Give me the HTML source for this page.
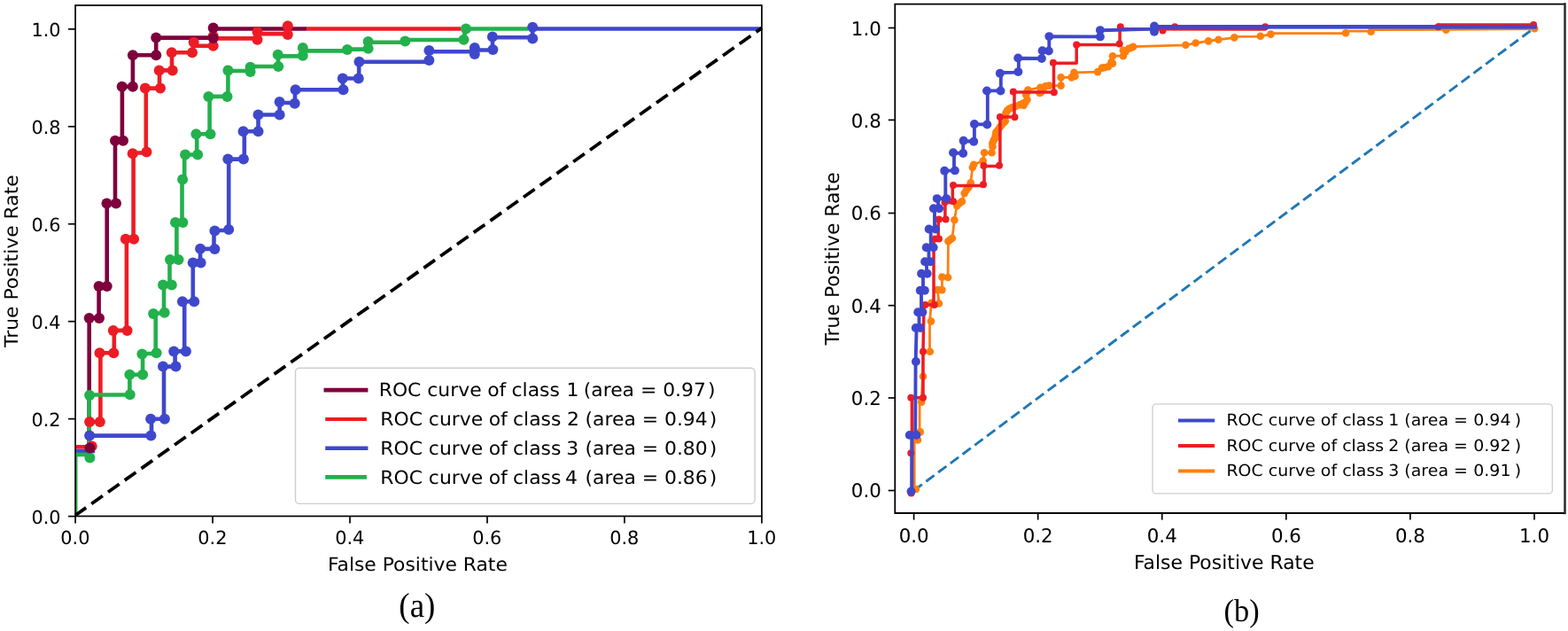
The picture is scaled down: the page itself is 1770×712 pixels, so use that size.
<!DOCTYPE html>
<html lang="en">
<head>
<meta charset="utf-8">
<title>ROC curves</title>
<style>
html,body{margin:0;padding:0;background:#fff;width:1770px;height:712px;overflow:hidden}
svg{display:block}
svg text{font-family:"DejaVu Sans","Liberation Sans",sans-serif;fill:#000;text-rendering:geometricPrecision}
</style>
</head>
<body>
<svg width="1770" height="712" viewBox="0 0 1770 712">
<rect width="1770" height="712" fill="#fff"/>
<g id="plot-a">
<path d="M100.7 505.6 L100.7 358.9 L111.6 358.9 L111.6 322.9 L120.7 322.9 L120.7 229.5 L130 229.5 L130 158.7 L137.9 158.7 L137.9 97.8 L149.9 97.8 L149.9 62.2 L176.2 62.2 L176.2 42.6 L240.7 42.6 L240.7 32.5 L346.7 32.5" fill="none" stroke="#7e003d" stroke-width="4.6" stroke-linejoin="round" stroke-linecap="butt" />
<path d="M86 504.3 L103.7 504.3" fill="none" stroke="#ed1c24" stroke-width="4.6" stroke-linejoin="round" stroke-linecap="butt" />
<path d="M101.1 476 L113.4 476 L113.4 398.2 L128.8 398.2 L128.8 372.9 L142.9 372.9 L142.9 269.7 L150.6 269.7 L150.6 172.5 L164.8 172.5 L164.8 99.6 L180 99.6 L180 79.4 L194 79.4 L194 59.2 L217.8 59.2 L217.8 51.8 L240.7 51.8" fill="none" stroke="#ed1c24" stroke-width="4.6" stroke-linejoin="round" stroke-linecap="butt" />
<path d="M240.7 43.4 L290.5 43.4 L290.5 38.1 L324.8 38.1 L324.8 32.5" fill="none" stroke="#ed1c24" stroke-width="4.6" stroke-linejoin="round" stroke-linecap="butt" />
<path d="M346.7 32.5 L520.4 32.5" fill="none" stroke="#ed1c24" stroke-width="4.6" stroke-linejoin="round" stroke-linecap="butt" />
<path d="M86 509 L107 509" fill="none" stroke="#3f48cc" stroke-width="4.6" stroke-linejoin="round" stroke-linecap="butt" />
<path d="M101.1 491.6 L171 491.6 L171 472.8 L185 472.8 L185 413.6 L197.6 413.6 L197.6 396.4 L208.2 396.4 L208.2 340.2 L217.8 340.2 L217.8 296.5 L226.1 296.5 L226.1 280.9 L241.5 280.9 L241.5 260 L258.2 260 L258.2 179.6 L275.8 179.6 L275.8 148.2 L291.5 148.2 L291.5 129.5 L315.6 129.5 L315.6 116 L333 116 L333 101.3 L387 101.3 L387 88.5 L405.2 88.5 L405.2 69.7 L484.4 69.7 L484.4 58.3 L535.8 58.3 L535.8 56.5 L556 56.5 L556 42.3 L601.2 42.3 L601.2 32.5 L859 32.5" fill="none" stroke="#3f48cc" stroke-width="4.6" stroke-linejoin="round" stroke-linecap="butt" />
<path d="M100.7 516.5 L100.7 445.5 L146.4 445.5 L146.4 422.8 L161.1 422.8 L161.1 399 L175.7 399 L175.7 353.5 L185 353.5 L185 321.5 L191.5 321.5 L191.5 293 L199.4 293 L199.4 250.9 L205.5 250.9 L205.5 202.6 L208.2 202.6 L208.2 174.5 L222.2 174.5 L222.2 151.2 L236.6 151.2 L236.6 108.9 L257.4 108.9 L257.4 80 L282.6 80 L282.6 75 L314 75 L314 63.4 L341.8 63.4 L341.8 57.4 L392 57.4 L392 55.6 L415.6 55.6 L415.6 47.8 L457.3 47.8 L457.3 45 L524.5 45 L524.5 32.5 L596 32.5" fill="none" stroke="#22b14c" stroke-width="4.6" stroke-linejoin="round" stroke-linecap="butt" />
<path d="M86 513 L101.4 513" fill="none" stroke="#22b14c" stroke-width="4.6" stroke-linejoin="round" stroke-linecap="butt" />
<path d="M86.7 582 L86.7 513" fill="none" stroke="#22b14c" stroke-width="1.6" stroke-linejoin="round" stroke-linecap="butt" />
<g fill="#22b14c"><circle cx="101.4" cy="516.5" r="6"/><circle cx="101.1" cy="446.1" r="6"/><circle cx="146.7" cy="445.2" r="6"/><circle cx="146.4" cy="422.8" r="6"/><circle cx="161.1" cy="422.8" r="6"/><circle cx="160.4" cy="399.4" r="6"/><circle cx="176.6" cy="398.2" r="6"/><circle cx="173.1" cy="353.9" r="6"/><circle cx="185.7" cy="352.7" r="6"/><circle cx="184" cy="321.5" r="6"/><circle cx="193.8" cy="321.5" r="6"/><circle cx="192" cy="293" r="6"/><circle cx="201.5" cy="293" r="6"/><circle cx="198" cy="250.9" r="6"/><circle cx="206.4" cy="250.9" r="6"/><circle cx="206.1" cy="202.6" r="6"/><circle cx="209.1" cy="174.5" r="6"/><circle cx="223.1" cy="174.5" r="6"/><circle cx="221.4" cy="151.2" r="6"/><circle cx="237.5" cy="151.2" r="6"/><circle cx="235.4" cy="108.9" r="6"/><circle cx="256.5" cy="108.9" r="6"/><circle cx="257.4" cy="79.4" r="6"/><circle cx="282.6" cy="81.1" r="6"/><circle cx="282.6" cy="75.8" r="6"/><circle cx="314.2" cy="75" r="6"/><circle cx="313.7" cy="61.8" r="6"/><circle cx="341.8" cy="62.7" r="6"/><circle cx="341.8" cy="53.9" r="6"/><circle cx="392" cy="56" r="6"/><circle cx="415.6" cy="54.8" r="6"/><circle cx="415.6" cy="46.9" r="6"/><circle cx="457.3" cy="46.5" r="6"/><circle cx="523.5" cy="44.8" r="6"/><circle cx="526" cy="32.5" r="6"/></g>
<g fill="#3f48cc"><circle cx="101.1" cy="491.6" r="6"/><circle cx="170.4" cy="491.6" r="6"/><circle cx="170.1" cy="472.8" r="6"/><circle cx="185.9" cy="472.8" r="6"/><circle cx="184" cy="413.6" r="6"/><circle cx="198.5" cy="413.6" r="6"/><circle cx="196.2" cy="396.4" r="6"/><circle cx="209.9" cy="396.4" r="6"/><circle cx="205.9" cy="340.2" r="6"/><circle cx="219.2" cy="340.2" r="6"/><circle cx="217.8" cy="296.5" r="6"/><circle cx="226.6" cy="296.5" r="6"/><circle cx="226.1" cy="280.7" r="6"/><circle cx="242.4" cy="281.1" r="6"/><circle cx="242.4" cy="260.5" r="6"/><circle cx="258.2" cy="259" r="6"/><circle cx="257.3" cy="179.6" r="6"/><circle cx="274.9" cy="179.6" r="6"/><circle cx="274.6" cy="148.2" r="6"/><circle cx="291.5" cy="148.2" r="6"/><circle cx="291.5" cy="129.6" r="6"/><circle cx="315.6" cy="129.4" r="6"/><circle cx="315.6" cy="115" r="6"/><circle cx="332.7" cy="116.8" r="6"/><circle cx="333.6" cy="101.3" r="6"/><circle cx="387.5" cy="101.3" r="6"/><circle cx="386.8" cy="88.5" r="6"/><circle cx="404.7" cy="88.5" r="6"/><circle cx="405.5" cy="69.7" r="6"/><circle cx="484.4" cy="67.9" r="6"/><circle cx="484.4" cy="57.1" r="6"/><circle cx="535.8" cy="53.9" r="6"/><circle cx="535.8" cy="60.9" r="6"/><circle cx="556.4" cy="56" r="6"/><circle cx="555.9" cy="41.6" r="6"/><circle cx="601.2" cy="43.4" r="6"/><circle cx="601.2" cy="30.7" r="6"/></g>
<g fill="#ed1c24"><circle cx="103.7" cy="503.5" r="6"/><circle cx="101.1" cy="476" r="6"/><circle cx="112.8" cy="476" r="6"/><circle cx="112.5" cy="398.2" r="6"/><circle cx="128.3" cy="398.2" r="6"/><circle cx="127.8" cy="372.9" r="6"/><circle cx="143.6" cy="372.9" r="6"/><circle cx="141.8" cy="269.7" r="6"/><circle cx="151.1" cy="269.7" r="6"/><circle cx="149.7" cy="173.3" r="6"/><circle cx="165.5" cy="171.5" r="6"/><circle cx="163.9" cy="99.6" r="6"/><circle cx="181" cy="99.6" r="6"/><circle cx="179.7" cy="79.4" r="6"/><circle cx="194.7" cy="79.4" r="6"/><circle cx="193.8" cy="59.2" r="6"/><circle cx="217" cy="59.2" r="6"/><circle cx="218.7" cy="47.8" r="6"/><circle cx="240.7" cy="51.8" r="6"/><circle cx="240.7" cy="40.7" r="6"/><circle cx="290.5" cy="44.8" r="6"/><circle cx="290.5" cy="36" r="6"/><circle cx="324.8" cy="39" r="6"/><circle cx="324.8" cy="29.3" r="6"/></g>
<g fill="#7e003d"><circle cx="101.4" cy="505.6" r="6"/><circle cx="100.7" cy="358.9" r="6"/><circle cx="112" cy="358.9" r="6"/><circle cx="111.6" cy="322.9" r="6"/><circle cx="120.7" cy="322.9" r="6"/><circle cx="120.5" cy="229.5" r="6"/><circle cx="131" cy="229.5" r="6"/><circle cx="130" cy="158.7" r="6"/><circle cx="139" cy="158.7" r="6"/><circle cx="137.7" cy="97.8" r="6"/><circle cx="149.9" cy="97.8" r="6"/><circle cx="149.9" cy="62.2" r="6"/><circle cx="176.2" cy="62.2" r="6"/><circle cx="176.2" cy="42.4" r="6"/><circle cx="240.7" cy="43" r="6"/><circle cx="240.7" cy="31.6" r="6"/></g>
<path d="M85.07 581.45 L859.9 31.6" stroke="#000" stroke-width="3.8" stroke-dasharray="15.5 7.5" stroke-dashoffset="0.7" fill="none"/>
<rect x="85.07" y="6" width="774.83" height="576.45" fill="none" stroke="#000" stroke-width="1.7"/>
<g stroke="#000" stroke-width="1.7">
<line x1="85.07" y1="582.45" x2="85.07" y2="590.45"/>
<line x1="77.07" y1="582.6" x2="85.07" y2="582.6"/>
<line x1="240.04" y1="582.45" x2="240.04" y2="590.45"/>
<line x1="77.07" y1="472.65" x2="85.07" y2="472.65"/>
<line x1="395" y1="582.45" x2="395" y2="590.45"/>
<line x1="77.07" y1="362.7" x2="85.07" y2="362.7"/>
<line x1="549.97" y1="582.45" x2="549.97" y2="590.45"/>
<line x1="77.07" y1="252.75" x2="85.07" y2="252.75"/>
<line x1="704.93" y1="582.45" x2="704.93" y2="590.45"/>
<line x1="77.07" y1="142.8" x2="85.07" y2="142.8"/>
<line x1="859.9" y1="582.45" x2="859.9" y2="590.45"/>
<line x1="77.07" y1="32.85" x2="85.07" y2="32.85"/>
</g>
<text transform="translate(84.87 614)" font-size="20.83px" text-anchor="middle">0.0</text>
<text transform="translate(68.5 591)" font-size="20.83px" text-anchor="end">0.0</text>
<text transform="translate(239.84 614)" font-size="20.83px" text-anchor="middle">0.2</text>
<text transform="translate(68.5 481)" font-size="20.83px" text-anchor="end">0.2</text>
<text transform="translate(394.8 614)" font-size="20.83px" text-anchor="middle">0.4</text>
<text transform="translate(68.5 371)" font-size="20.83px" text-anchor="end">0.4</text>
<text transform="translate(549.77 614)" font-size="20.83px" text-anchor="middle">0.6</text>
<text transform="translate(68.5 261)" font-size="20.83px" text-anchor="end">0.6</text>
<text transform="translate(704.73 614)" font-size="20.83px" text-anchor="middle">0.8</text>
<text transform="translate(68.5 151)" font-size="20.83px" text-anchor="end">0.8</text>
<text transform="translate(859.7 614)" font-size="20.83px" text-anchor="middle">1.0</text>
<text transform="translate(68.5 41)" font-size="20.83px" text-anchor="end">1.0</text>
<text transform="translate(471.4 644) scale(1.048 1)" font-size="20.83px" text-anchor="middle">False Positive Rate</text>
<text transform="translate(20 294.65) rotate(-90) scale(1.049 1)" font-size="20.83px" text-anchor="middle">True Positive Rate</text>
<rect x="333.5" y="415.2" width="518.6" height="153.2" rx="4.5" ry="4.5" fill="#fff" fill-opacity="0.8" stroke="#cdcdcd" stroke-width="1.4"/>
<line x1="365.5" y1="440.1" x2="415.4" y2="440.1" stroke="#7e003d" stroke-width="4.9"/>
<text transform="translate(0 447) scale(1.05 1)" font-size="20.83px"><tspan x="407.34">ROC curve <tspan dx="-0.4">of </tspan><tspan dx="-0.6">class </tspan></tspan><tspan x="609.04">1 </tspan><tspan x="627.35">(area = </tspan><tspan x="712.53">0.97</tspan><tspan x="761">)</tspan></text>
<line x1="367.2" y1="473" x2="413.9" y2="473" stroke="#ed1c24" stroke-width="4.2"/>
<text transform="translate(0 480) scale(1.05 1)" font-size="20.83px"><tspan x="408.81">ROC curve <tspan dx="-0.4">of </tspan><tspan dx="-0.6">class </tspan></tspan><tspan x="609.43">2 </tspan><tspan x="629.07">(area = </tspan><tspan x="714.25">0.94</tspan><tspan x="762.71">)</tspan></text>
<line x1="367.2" y1="505.7" x2="415.4" y2="505.7" stroke="#3f48cc" stroke-width="4.6"/>
<text transform="translate(0 513) scale(1.05 1)" font-size="20.83px"><tspan x="408.81">ROC curve <tspan dx="-0.4">of </tspan><tspan dx="-0.6">class </tspan></tspan><tspan x="608.79">3 </tspan><tspan x="629.07">(area = </tspan><tspan x="714.25">0.80</tspan><tspan x="762.71">)</tspan></text>
<line x1="367.2" y1="538.4" x2="413.9" y2="538.4" stroke="#22b14c" stroke-width="4.6"/>
<text transform="translate(0 546) scale(1.05 1)" font-size="20.83px"><tspan x="408.81">ROC curve <tspan dx="-0.4">of </tspan><tspan dx="-0.6">class </tspan></tspan><tspan x="607.55">4 </tspan><tspan x="629.07">(area = </tspan><tspan x="714.25">0.86</tspan><tspan x="762.71">)</tspan></text>
<text transform="translate(470.85 696) scale(0.95 1)" font-size="39px" text-anchor="middle" style="font-family:'Liberation Serif','DejaVu Serif',serif">(a)</text>
</g>
<g id="plot-b">
<path d="M1031.6 553.5 L1732 31.5" stroke="#1f77b4" stroke-width="2.9" stroke-dasharray="11.6 5.53" fill="none"/>
<path d="M1032.2 552 L1032.2 496.5 L1038.1 487.4 L1038.1 453.6 L1040.2 453.6 L1041.5 424.8 L1042 396.7 L1049.5 396.7 L1049.5 362.6 L1051.4 341.8 L1059.9 342.5 L1058.5 327.1 L1063.4 327.1 L1063.4 312.6 L1070.1 313 L1070.4 272.2 L1074.9 268.7 L1077.4 248.3 L1080.2 232.1 L1085.9 227.2 L1088.7 218.1 L1093.6 211.1 L1095.7 206.2 L1097.8 189 L1099.2 185.7 L1109.7 181.5 L1111.1 172.3 L1119.5 172.3 L1120.2 161.8 L1123 156.2 L1124.4 149.2 L1128.7 143.5 L1133.6 137.9 L1137.1 124.6 L1142.7 121.1 L1151.1 118.3 L1157.5 115.5 L1158.2 107 L1160.4 101.5 L1174.4 98.7 L1180.1 97.3 L1184.3 96.6 L1197.6 96.6 L1197.6 87.4 L1209.6 87.4 L1212.4 81.8 L1239.1 81.1 L1244 76.6 L1251.1 75.1 L1256 71.6 L1256 63.2 L1267.9 63.2 L1267.9 56.9 L1274.2 54.8 L1279.2 52.7 L1338.4 50.8 L1349.7 48.5 L1364.1 46.4 L1375.4 44.7 L1393.3 42.7 L1393.3 41.4 L1422.8 41.2 L1434.5 38.4 L1434.5 37.7 L1519.1 37.7 L1519.1 35.1 L1547.6 35 L1547.6 33.6 L1632.4 33.4 L1732.2 32.6" fill="none" stroke="#ff7f0e" stroke-width="2.8" stroke-linejoin="round" stroke-linecap="butt" />
<g fill="#ff7f0e"><circle cx="1033.9" cy="552" r="4.3"/><circle cx="1036" cy="496.5" r="4.3"/><circle cx="1038.8" cy="487.4" r="4.3"/><circle cx="1040.2" cy="453.6" r="4.3"/><circle cx="1042" cy="424.8" r="4.3"/><circle cx="1049.8" cy="396.7" r="4.3"/><circle cx="1051" cy="362.6" r="4.3"/><circle cx="1051.4" cy="341.8" r="4.3"/><circle cx="1059.9" cy="342.5" r="4.3"/><circle cx="1058.5" cy="327.1" r="4.3"/><circle cx="1063.4" cy="327.1" r="4.3"/><circle cx="1063.4" cy="312.6" r="4.3"/><circle cx="1070.1" cy="313" r="4.3"/><circle cx="1070.4" cy="272.2" r="4.3"/><circle cx="1074.9" cy="268.7" r="4.3"/><circle cx="1077.4" cy="248.3" r="4.3"/><circle cx="1080.2" cy="232.1" r="4.3"/><circle cx="1085.9" cy="227.2" r="4.3"/><circle cx="1088.7" cy="218.1" r="4.3"/><circle cx="1093.6" cy="211.1" r="4.3"/><circle cx="1095.7" cy="206.2" r="4.3"/><circle cx="1097.8" cy="189" r="4.3"/><circle cx="1099.2" cy="185.7" r="4.3"/><circle cx="1109.7" cy="181.5" r="4.3"/><circle cx="1111.1" cy="172.3" r="4.3"/><circle cx="1119.5" cy="172.3" r="4.3"/><circle cx="1120.2" cy="161.8" r="4.3"/><circle cx="1123" cy="156.2" r="4.3"/><circle cx="1124.4" cy="149.2" r="4.3"/><circle cx="1128.7" cy="143.5" r="4.3"/><circle cx="1133.6" cy="137.9" r="4.3"/><circle cx="1137.1" cy="124.6" r="4.3"/><circle cx="1142.7" cy="121.1" r="4.3"/><circle cx="1151.1" cy="118.3" r="4.3"/><circle cx="1157.5" cy="115.5" r="4.3"/><circle cx="1158.2" cy="107" r="4.3"/><circle cx="1160.4" cy="101.5" r="4.3"/><circle cx="1174.4" cy="98.7" r="4.3"/><circle cx="1180.1" cy="97.3" r="4.3"/><circle cx="1184.3" cy="96.6" r="4.3"/><circle cx="1197.6" cy="96.6" r="4.3"/><circle cx="1197.6" cy="87.4" r="4.3"/><circle cx="1209.6" cy="87.4" r="4.3"/><circle cx="1212.4" cy="81.8" r="4.3"/><circle cx="1239.1" cy="81.1" r="4.3"/><circle cx="1244" cy="76.6" r="4.3"/><circle cx="1251.1" cy="75.1" r="4.3"/><circle cx="1256" cy="71.6" r="4.3"/><circle cx="1256" cy="63.2" r="4.3"/><circle cx="1267.9" cy="63.2" r="4.3"/><circle cx="1267.9" cy="56.9" r="4.3"/><circle cx="1274.2" cy="54.8" r="4.3"/><circle cx="1279.2" cy="52.7" r="4.3"/><circle cx="1338.4" cy="50.8" r="4.3"/><circle cx="1349.7" cy="48.5" r="4.3"/><circle cx="1364.1" cy="46.4" r="4.3"/><circle cx="1375.4" cy="44.7" r="4.3"/><circle cx="1393.3" cy="42.4" r="4.3"/><circle cx="1422.8" cy="40.7" r="4.3"/><circle cx="1434.5" cy="38.6" r="4.3"/><circle cx="1519.1" cy="37.2" r="4.3"/><circle cx="1547.6" cy="35.8" r="4.3"/><circle cx="1632.4" cy="33.7" r="4.3"/><circle cx="1732.2" cy="32.3" r="4.3"/><circle cx="1120.5" cy="165.5" r="4.3"/><circle cx="1121.5" cy="158.5" r="4.3"/><circle cx="1123.8" cy="152.6" r="4.3"/><circle cx="1126.4" cy="146.8" r="4.3"/><circle cx="1130.8" cy="141" r="4.3"/><circle cx="1134.8" cy="136.5" r="4.3"/><circle cx="1135.5" cy="127.5" r="4.3"/><circle cx="1139.6" cy="122.6" r="4.3"/><circle cx="1146.5" cy="120" r="4.3"/><circle cx="1154.5" cy="116.9" r="4.3"/><circle cx="1159.5" cy="112.5" r="4.3"/><circle cx="1159" cy="104.5" r="4.3"/><circle cx="1174.8" cy="104.5" r="4.3"/><circle cx="1155.5" cy="119" r="4.3"/><circle cx="1173.5" cy="105" r="4.3"/><circle cx="1177.5" cy="100" r="4.3"/><circle cx="1213.5" cy="86" r="4.3"/><circle cx="1246.5" cy="76.3" r="4.3"/><circle cx="1254.5" cy="70" r="4.3"/><circle cx="1270.5" cy="58.5" r="4.3"/><circle cx="1276.8" cy="54" r="4.3"/><circle cx="1083" cy="229.5" r="4.3"/><circle cx="1090.8" cy="214.5" r="4.3"/><circle cx="1072.6" cy="270.5" r="4.3"/></g>
<path d="M1029.4 556.5 L1029.4 448.7 L1042 448.7 L1042 396.7 L1043 343.9 L1054 343.9 L1054 269.4 L1059.2 269.4 L1059.2 247.6 L1066.9 247.6 L1066.9 228.4 L1075.3 228.4 L1075.3 209.4 L1111 209.4 L1111 187.6 L1128.9 187.6 L1128.9 132 L1145 132 L1145 103.9 L1189.5 103.9 L1189.5 71.3 L1215.2 71.3 L1215.2 50.6 L1264.1 50.6 L1264.1 32.7 L1428.2 32.9 L1428.2 30.2 L1623.5 30.2 L1623.5 28 L1731.1 28" fill="none" stroke="#ed1c24" stroke-width="3.5" stroke-linejoin="round" stroke-linecap="butt" />
<g fill="#ed1c24"><circle cx="1028.6" cy="556.5" r="4"/><circle cx="1028.3" cy="511.3" r="4"/><circle cx="1028.3" cy="448.7" r="4"/><circle cx="1042" cy="448.7" r="4"/><circle cx="1042" cy="396.7" r="4"/><circle cx="1044.4" cy="343.9" r="4"/><circle cx="1054.7" cy="343.9" r="4"/><circle cx="1055.7" cy="269.4" r="4"/><circle cx="1059.9" cy="269.4" r="4"/><circle cx="1059.9" cy="247.6" r="4"/><circle cx="1067.6" cy="247.6" r="4"/><circle cx="1066.5" cy="228.3" r="4"/><circle cx="1076" cy="227.2" r="4"/><circle cx="1076" cy="209" r="4"/><circle cx="1110" cy="208.3" r="4"/><circle cx="1110.4" cy="187.1" r="4"/><circle cx="1128" cy="186.8" r="4"/><circle cx="1128.9" cy="132" r="4"/><circle cx="1145.5" cy="132.3" r="4"/><circle cx="1143.8" cy="103.5" r="4"/><circle cx="1189.8" cy="104.2" r="4"/><circle cx="1188.9" cy="70.8" r="4"/><circle cx="1215.2" cy="50.6" r="4"/><circle cx="1263.7" cy="49.4" r="4"/><circle cx="1264.8" cy="30.2" r="4"/><circle cx="1312.5" cy="34.4" r="4"/><circle cx="1326.2" cy="30.2" r="4"/><circle cx="1428.2" cy="30.2" r="4"/><circle cx="1623.5" cy="30.2" r="4"/><circle cx="1731.1" cy="28.1" r="4"/></g>
<path d="M1029.2 554.4 L1029.4 490.9 L1033.2 490.9 L1033.6 407.9 L1034.6 370.5 L1037.5 370.5 L1037.5 352.3 L1040 352.3 L1040 327.8 L1042 327.8 L1042 308.8 L1046 308.8 L1046 295.2 L1048.5 295.2 L1048.5 279.2 L1050.7 279.2 L1050.7 258.5 L1055 258.5 L1055 235.2 L1059 235.2 L1059 224.1 L1067.3 224.1 L1067.3 192.6 L1077 192.4 L1077 172.6 L1087.2 172.8 L1087.2 159.2 L1099.9 159.5 L1099.9 140.2 L1114.8 140.4 L1114.8 102.4 L1129.8 102.4 L1129.8 82 L1149.9 81.6 L1149.9 65.7 L1176 66 L1176.6 57.4 L1184.3 57.4 L1184.3 41.3 L1241.9 41.4 L1241.9 34.3 L1303 32.6 L1303 30.2 L1734.6 30.2" fill="none" stroke="#3f48cc" stroke-width="3.9" stroke-linejoin="round" stroke-linecap="butt" />
<path d="M1303 30.2 L1734.6 30.2" fill="none" stroke="#3f48cc" stroke-width="4.5" stroke-linejoin="round" stroke-linecap="butt" />
<g fill="#3f48cc"><circle cx="1028.5" cy="554.4" r="4.95"/><circle cx="1026.8" cy="490.9" r="4.95"/><circle cx="1034.4" cy="490.9" r="4.95"/><circle cx="1033.9" cy="407.9" r="4.95"/><circle cx="1033.8" cy="370" r="4.95"/><circle cx="1038.8" cy="370" r="4.95"/><circle cx="1036.2" cy="352.3" r="4.95"/><circle cx="1041.4" cy="352.3" r="4.95"/><circle cx="1038.7" cy="327.8" r="4.95"/><circle cx="1043.9" cy="327.8" r="4.95"/><circle cx="1040.1" cy="308.8" r="4.95"/><circle cx="1046.7" cy="308.8" r="4.95"/><circle cx="1044.1" cy="295.2" r="4.95"/><circle cx="1050.1" cy="295.2" r="4.95"/><circle cx="1045.7" cy="279.2" r="4.95"/><circle cx="1053.7" cy="279.2" r="4.95"/><circle cx="1048.6" cy="258.5" r="4.95"/><circle cx="1056" cy="258.5" r="4.95"/><circle cx="1053.9" cy="235.2" r="4.95"/><circle cx="1060.2" cy="235.2" r="4.95"/><circle cx="1057.7" cy="224.1" r="4.95"/><circle cx="1068.3" cy="224.1" r="4.95"/><circle cx="1066.2" cy="192.7" r="4.95"/><circle cx="1077.9" cy="192.4" r="4.95"/><circle cx="1076" cy="172.3" r="4.95"/><circle cx="1087.2" cy="173" r="4.95"/><circle cx="1087.6" cy="158.7" r="4.95"/><circle cx="1099.2" cy="159.7" r="4.95"/><circle cx="1099.9" cy="140" r="4.95"/><circle cx="1114.3" cy="140.5" r="4.95"/><circle cx="1114" cy="102.5" r="4.95"/><circle cx="1129.5" cy="102.5" r="4.95"/><circle cx="1128.8" cy="82.8" r="4.95"/><circle cx="1149.4" cy="81.1" r="4.95"/><circle cx="1149.2" cy="65.4" r="4.95"/><circle cx="1175.9" cy="66.1" r="4.95"/><circle cx="1176.6" cy="57.2" r="4.95"/><circle cx="1183.9" cy="57.6" r="4.95"/><circle cx="1184.3" cy="41.1" r="4.95"/><circle cx="1241.9" cy="41.4" r="4.95"/><circle cx="1241.9" cy="34.1" r="4.95"/><circle cx="1303" cy="29.5" r="4.95"/><circle cx="1303" cy="35.8" r="4.95"/></g>
<path d="M1766.2 4.6 L1010.3 4.6 L1010.3 579 L1766.2 579" fill="none" stroke="#000" stroke-width="1.8" stroke-linecap="square"/>
<line x1="1766.5" y1="4.6" x2="1766.5" y2="579" stroke="#2a2a2a" stroke-width="2.5" stroke-linecap="square"/>
<g stroke="#000" stroke-width="1.7">
<line x1="1031.6" y1="579" x2="1031.6" y2="586.6"/>
<line x1="1002.7" y1="553.5" x2="1010.3" y2="553.5"/>
<line x1="1171.68" y1="579" x2="1171.68" y2="586.6"/>
<line x1="1002.7" y1="449" x2="1010.3" y2="449"/>
<line x1="1311.76" y1="579" x2="1311.76" y2="586.6"/>
<line x1="1002.7" y1="344.7" x2="1010.3" y2="344.7"/>
<line x1="1451.84" y1="579" x2="1451.84" y2="586.6"/>
<line x1="1002.7" y1="240.5" x2="1010.3" y2="240.5"/>
<line x1="1591.92" y1="579" x2="1591.92" y2="586.6"/>
<line x1="1002.7" y1="135.4" x2="1010.3" y2="135.4"/>
<line x1="1732" y1="579" x2="1732" y2="586.6"/>
<line x1="1002.7" y1="31.5" x2="1010.3" y2="31.5"/>
</g>
<text transform="translate(1031.6 612) scale(0.985 1)" font-size="21.67px" text-anchor="middle">0.0</text>
<text transform="translate(994.8 561) scale(0.985 1)" font-size="21.67px" text-anchor="end">0.0</text>
<text transform="translate(1171.68 612) scale(0.985 1)" font-size="21.67px" text-anchor="middle">0.2</text>
<text transform="translate(994.8 457) scale(0.985 1)" font-size="21.67px" text-anchor="end">0.2</text>
<text transform="translate(1311.76 612) scale(0.985 1)" font-size="21.67px" text-anchor="middle">0.4</text>
<text transform="translate(994.8 353) scale(0.985 1)" font-size="21.67px" text-anchor="end">0.4</text>
<text transform="translate(1451.84 612) scale(0.985 1)" font-size="21.67px" text-anchor="middle">0.6</text>
<text transform="translate(994.8 248) scale(0.985 1)" font-size="21.67px" text-anchor="end">0.6</text>
<text transform="translate(1591.92 612) scale(0.985 1)" font-size="21.67px" text-anchor="middle">0.8</text>
<text transform="translate(994.8 144) scale(0.985 1)" font-size="21.67px" text-anchor="end">0.8</text>
<text transform="translate(1732 612) scale(0.985 1)" font-size="21.67px" text-anchor="middle">1.0</text>
<text transform="translate(994.8 40) scale(0.985 1)" font-size="21.67px" text-anchor="end">1.0</text>
<text transform="translate(1381.8 642) scale(1.012 1)" font-size="21.67px" text-anchor="middle">False Positive Rate</text>
<text transform="translate(947 292) rotate(-90) scale(1.012 1)" font-size="21.67px" text-anchor="middle">True Positive Rate</text>
<rect x="1301" y="455.8" width="451.3" height="101.1" rx="4" ry="4" fill="#fff" fill-opacity="0.8" stroke="#cdcdcd" stroke-width="1.3"/>
<line x1="1330" y1="474.5" x2="1371.1" y2="474.5" stroke="#3f48cc" stroke-width="4.1"/>
<text transform="translate(0 480) scale(1.05 1)" font-size="18.06px"><tspan x="1318.47">ROC curve of class </tspan><tspan x="1492.59">1 </tspan><tspan x="1509.88">(area = </tspan><tspan x="1584.05">0.94 </tspan><tspan x="1628.27">)</tspan></text>
<line x1="1330" y1="503" x2="1371.1" y2="503" stroke="#ed1c24" stroke-width="4.1"/>
<text transform="translate(0 509) scale(1.05 1)" font-size="18.06px"><tspan x="1318.47">ROC curve of class </tspan><tspan x="1492.58">2 </tspan><tspan x="1509.88">(area = </tspan><tspan x="1584.05">0.92 </tspan><tspan x="1628.27">)</tspan></text>
<line x1="1330" y1="531.5" x2="1371.1" y2="531.5" stroke="#ff7f0e" stroke-width="4.1"/>
<text transform="translate(0 537) scale(1.05 1)" font-size="18.06px"><tspan x="1318.47">ROC curve of class </tspan><tspan x="1492.53">3 </tspan><tspan x="1509.88">(area = </tspan><tspan x="1584.05">0.91 </tspan><tspan x="1628.27">)</tspan></text>
<text transform="translate(1401.6 701) scale(0.955 1)" font-size="36px" text-anchor="middle" style="font-family:'Liberation Serif','DejaVu Serif',serif">(b)</text>
</g>
</svg>
</body>
</html>
